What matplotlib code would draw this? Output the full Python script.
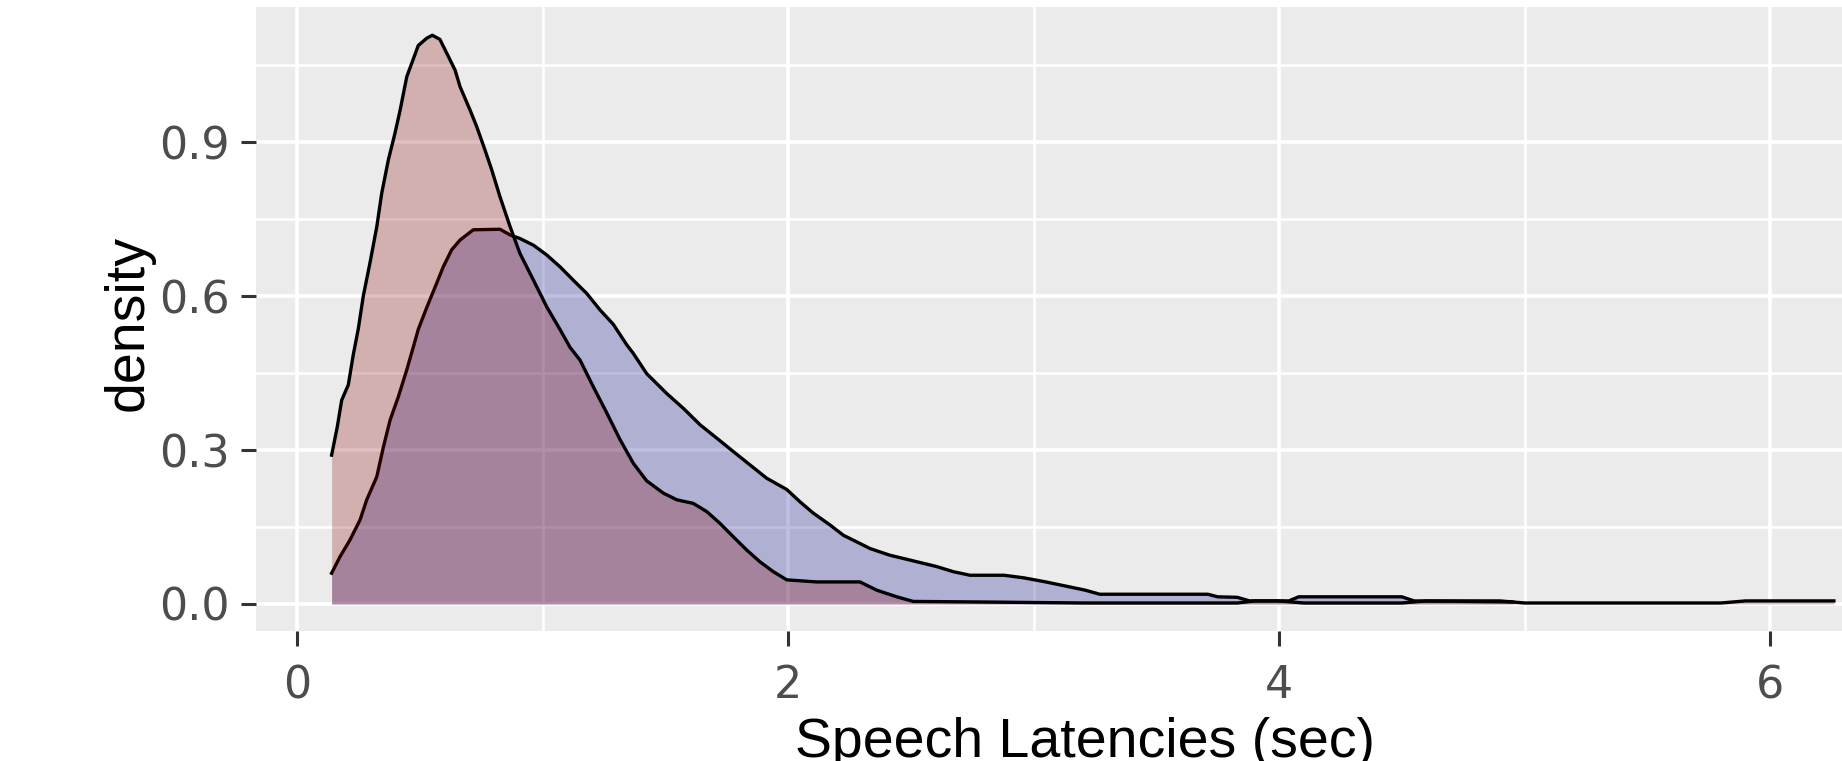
import matplotlib
matplotlib.use('Agg')
import matplotlib.pyplot as plt

plt.rcParams['font.family'] = ['Liberation Sans', 'DejaVu Sans']

# density curves (x = seconds, y = density)
fast_x = [0.141, 0.164, 0.182, 0.209, 0.229, 0.250, 0.270, 0.297, 0.325, 0.345,
          0.372, 0.399, 0.420, 0.447, 0.474, 0.494, 0.528, 0.551, 0.582, 0.610,
          0.644, 0.664, 0.705, 0.732, 0.766, 0.793, 0.827, 0.868, 0.908, 0.963,
          1.017, 1.071, 1.112, 1.153, 1.207, 1.262, 1.316, 1.370, 1.424, 1.492,
          1.547, 1.614, 1.669, 1.723, 1.777, 1.832, 1.886, 1.940, 1.995, 2.117,
          2.293, 2.361, 2.443, 2.510, 2.768, 3.200, 3.830, 3.900, 4.000, 4.100,
          4.500, 4.600, 4.900, 5.000, 5.800, 5.900, 6.260]
fast_y = [0.290, 0.345, 0.397, 0.427, 0.485, 0.537, 0.600, 0.664, 0.735, 0.800,
          0.865, 0.917, 0.962, 1.027, 1.062, 1.088, 1.102, 1.108, 1.100, 1.073,
          1.040, 1.008, 0.962, 0.930, 0.884, 0.846, 0.793, 0.735, 0.683, 0.631,
          0.579, 0.535, 0.500, 0.475, 0.423, 0.372, 0.320, 0.274, 0.240, 0.216,
          0.203, 0.196, 0.180, 0.157, 0.131, 0.105, 0.082, 0.063, 0.047, 0.043,
          0.043, 0.027, 0.014, 0.005, 0.004, 0.002, 0.002, 0.006, 0.006, 0.002,
          0.002, 0.006, 0.006, 0.002, 0.002, 0.006, 0.006]

slow_x = [0.141, 0.175, 0.216, 0.257, 0.284, 0.325, 0.352, 0.379, 0.413, 0.447,
          0.474, 0.494, 0.528, 0.569, 0.596, 0.630, 0.664, 0.718, 0.827, 0.868,
          0.908, 0.963, 1.017, 1.071, 1.125, 1.180, 1.234, 1.288, 1.343, 1.370,
          1.424, 1.506, 1.574, 1.642, 1.710, 1.777, 1.845, 1.913, 1.995, 2.049,
          2.103, 2.171, 2.225, 2.280, 2.334, 2.415, 2.510, 2.605, 2.673, 2.741,
          2.880, 2.960, 3.050, 3.130, 3.210, 3.270, 3.710, 3.750, 3.830, 3.880,
          4.040, 4.080, 4.500, 4.550, 4.950]
slow_y = [0.060, 0.092, 0.125, 0.164, 0.203, 0.248, 0.306, 0.358, 0.404, 0.456,
          0.501, 0.535, 0.577, 0.625, 0.657, 0.690, 0.709, 0.729, 0.730, 0.719,
          0.712, 0.699, 0.680, 0.657, 0.631, 0.605, 0.573, 0.545, 0.505, 0.488,
          0.449, 0.410, 0.381, 0.349, 0.323, 0.297, 0.271, 0.245, 0.223, 0.199,
          0.177, 0.154, 0.134, 0.121, 0.108, 0.095, 0.084, 0.073, 0.063, 0.056,
          0.056, 0.051, 0.043, 0.035, 0.027, 0.019, 0.019, 0.014, 0.013, 0.006,
          0.006, 0.014, 0.014, 0.006, 0.004]

x_ticks = [0, 2, 4, 6]
y_ticks = [0.0, 0.3, 0.6, 0.9]
y_tick_labels = ['0.0', '0.3', '0.6', '0.9']

fig = plt.figure(figsize=(18.42, 7.61), dpi=100)
ax = fig.add_axes([256 / 1842, 130 / 761, 1586 / 1842, 624 / 761])
ax.set_facecolor('#EBEBEB')

# blue group first, red group drawn over it
ax.fill_between(slow_x, 0, slow_y, color='darkblue', alpha=0.25, linewidth=0, zorder=2)
ax.plot(slow_x, slow_y, color='black', linewidth=2.4, zorder=3)
ax.fill_between(fast_x, 0, fast_y, color='darkred', alpha=0.25, linewidth=0, zorder=4)
ax.plot(fast_x, fast_y, color='black', linewidth=2.4, zorder=5)

ax.set_xlim(-0.167, 6.293)
ax.set_ylim(-0.0526, 1.163)
ax.set_xticks(x_ticks)
ax.set_yticks(y_ticks)
ax.set_yticklabels(y_tick_labels)
ax.set_xticks([1, 3, 5], minor=True)
ax.set_yticks([0.15, 0.45, 0.75, 1.05], minor=True)

ax.set_axisbelow(True)
ax.grid(which='major', color='white', linewidth=2.6)
ax.grid(which='minor', color='white', linewidth=1.8)
for s in ax.spines.values():
    s.set_visible(False)

ax.tick_params(which='major', length=10.8, width=2.2, color='#333333',
               labelsize=32, labelcolor='#4D4D4D')
ax.tick_params(axis='y', pad=8)
ax.tick_params(axis='x', pad=13)
ax.tick_params(which='minor', length=0)
for lab in ax.get_xticklabels() + ax.get_yticklabels():
    lab.set_fontfamily('DejaVu Sans')

ax.set_ylabel('density', fontsize=40, color='black')
ax.yaxis.set_label_coords(-0.064, 0.494)
ax.set_xlabel('Speech Latencies (sec)', fontsize=40, color='black')
ax.xaxis.set_label_coords(0.5227, -0.138)

fig.savefig('out.png', dpi=100)
